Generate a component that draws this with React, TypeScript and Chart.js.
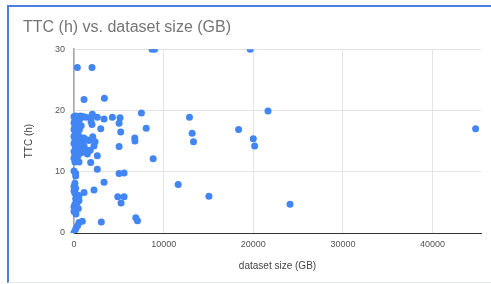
import { useEffect, useRef } from "react";
import { Chart, registerables } from "chart.js";

Chart.register(...registerables);

const chartTitle = "TTC (h) vs. dataset size (GB)";
const xAxisTitle = "dataset size (GB)";
const yAxisTitle = "TTC (h)";

// x tick labels (GB) and y tick labels (h)
const xTickValues = [0, 10000, 20000, 30000, 40000];
const yTickValues = [0, 10, 20, 30];

// dataset size (GB)
const datasetSizeGB = [
  // dense cluster near zero
  0, 200, 450, 700, 1000, 1300,
  100, 350, 650,
  0, 250, 500,
  100, 400, 800,
  0, 250, 600,
  150, 450,
  0, 300, 700, 1100,
  100, 450, 900, 1400,
  0, 300, 700, 1120,
  150, 500, 900, 1300,
  0, 350, 800,
  100, 450, 1490,
  0, 300,
  100, 560,
  0, 190, 190,
  100, 0, 190, 0, 100, 370, 560, 190, 560, 370, 100, 0, 190, 480, 0, 220, 560, 930, 190, 0, 400,
  // second cluster
  2040, 1860, 2600, 3350, 4280, 1900, 2010, 2980, 1680, 2040, 2090, 2350, 2230, 1800, 2600, 1860, 2600,
  3350, 2230, 1120, 3050, 370, 2010, 1120, 3390,
  // mid range
  7520, 5140, 5030, 5210, 8050, 6780, 6800, 5030, 8830, 5030, 5590, 4880, 5590, 5250,
  6890, 7080, 8700, 9000,
  // far
  11620, 12880, 13180, 13330, 15050, 18360, 19660, 20000, 20150, 21640, 24100, 44800,
];

// TTC (h)
const ttcHours = [
  19.0, 19.1, 19.0, 19.1, 19.0, 18.9,
  18.5, 18.4, 18.6,
  18.0, 17.8, 17.9,
  17.4, 17.3, 17.5,
  16.9, 16.8, 16.9,
  16.3, 16.2,
  15.8, 15.7, 15.6, 15.5,
  15.2, 15.1, 15.0, 15.2,
  14.6, 14.5, 14.6, 14.2,
  14.0, 13.9, 13.8, 13.6,
  13.3, 13.2, 13.1,
  12.7, 12.6, 12.9,
  12.2, 12.0,
  11.6, 11.6,
  10.1, 9.7, 9.3,
  8.1, 7.6, 7.3, 6.9, 6.5, 6.2, 6.1, 5.6, 5.3, 5.0, 4.7, 4.3, 3.9, 4.0, 3.5, 3.1, 1.7, 1.9, 0.65, 0.1, 1.2,
  19.4, 18.9, 18.9, 18.6, 18.9, 18.2, 17.7, 17.0, 15.1, 15.3, 15.7, 14.9, 14.2, 13.5, 12.6, 11.5, 10.4,
  8.3, 7.0, 6.6, 1.8, 27.0, 27.0, 21.8, 22.0,
  19.6, 18.8, 17.9, 16.5, 17.1, 15.5, 15.0, 14.1, 12.1, 9.7, 9.8, 5.9, 5.9, 4.9,
  2.5, 2.0, 30, 30,
  7.9, 18.9, 16.3, 14.9, 6.0, 16.9, 30, 15.4, 14.2, 19.9, 4.7, 17.0,
];

const xMin = 0;
const xMax = 45400;
const yMin = 0;
const yMax = 30;

const FONT = "'Liberation Sans', Arial, sans-serif";

export default function App() {
  const canvasRef = useRef<HTMLCanvasElement | null>(null);

  useEffect(() => {
    const canvas = canvasRef.current;
    if (!canvas) return;
    const points = datasetSizeGB.map((x, i) => ({ x, y: ttcHours[i] }));
    const chart = new Chart(canvas, {
      type: "scatter",
      data: {
        datasets: [
          {
            data: points,
            backgroundColor: "#4285f4",
            borderWidth: 0,
            pointRadius: 3.5,
            pointHoverRadius: 3.5,
            clip: { left: false, top: 0, right: 0, bottom: 0 } as any,
          },
        ],
      },
      options: {
        animation: false,
        responsive: false,
        maintainAspectRatio: false,
        devicePixelRatio: 1,
        layout: { padding: { left: 23, right: 10, top: 0, bottom: 0 } },
        font: { family: FONT },
        plugins: {
          legend: { display: false },
          tooltip: { enabled: false },
          title: {
            display: true,
            text: chartTitle,
            align: "start",
            color: "#757575",
            font: { size: 16, weight: "normal", family: FONT },
            padding: { top: 18.4, bottom: 11.6 },
          },
        },
        scales: {
          x: {
            type: "linear",
            min: xMin,
            max: xMax,
            afterFit: (s: any) => {
              s.height = 51;
            },
            afterBuildTicks: (s: any) => {
              s.ticks = xTickValues.map((value) => ({ value }));
            },
            ticks: {
              padding: 6,
              color: "#555",
              font: { size: 9, family: FONT },
              maxRotation: 0,
              autoSkip: false,
              callback: (v: any) => String(v),
            },
            grid: { color: "#e4e4e4", drawTicks: false },
            border: { color: "#333", width: 1 },
            title: {
              display: true,
              text: xAxisTitle,
              color: "#444",
              font: { size: 10, family: FONT },
              padding: { top: 0, bottom: 12 },
            },
          },
          y: {
            type: "linear",
            min: yMin,
            max: yMax,
            afterFit: (s: any) => {
              s.width = 51;
            },
            afterBuildTicks: (s: any) => {
              s.ticks = yTickValues.map((value) => ({ value }));
            },
            ticks: {
              padding: 9,
              color: "#555",
              font: { size: 9, family: FONT },
            },
            grid: { color: "#e4e4e4", drawTicks: false },
            border: { color: "#a8a8a8", width: 1.5 },
            title: {
              display: true,
              text: yAxisTitle,
              color: "#444",
              font: { size: 10, family: FONT },
              padding: { top: 0, bottom: 0 },
            },
          },
        },
      },
    });
    return () => chart.destroy();
  }, []);

  return (
    <div
      style={{
        position: "fixed",
        left: 0,
        top: 0,
        width: 491,
        height: 284,
        overflow: "hidden",
        background: "#fff",
      }}
    >
      <canvas ref={canvasRef} width={491} height={284} style={{ position: "absolute", left: 0, top: 0 }} />
      <div
        style={{
          position: "absolute",
          left: 7,
          top: 5,
          width: 500,
          height: 278,
          boxSizing: "border-box",
          borderLeft: "2px solid #4a80e0",
          borderTop: "2px solid #4a80e0",
          borderBottom: "1px solid #e3e8f4",
          pointerEvents: "none",
        }}
      />
    </div>
  );
}
